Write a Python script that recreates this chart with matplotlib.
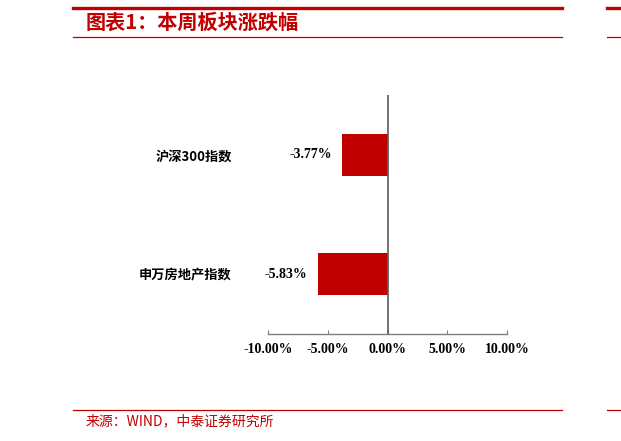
import matplotlib
matplotlib.use("Agg")
import matplotlib.pyplot as plt
from matplotlib.lines import Line2D

categories = ["申万房地产指数", "沪深300指数"]
values = [-5.83, -3.77]
xticks = [-10, -5, 0, 5, 10]
xtick_labels = ["-10.00%", "-5.00%", "0.00%", "5.00%", "10.00%"]
title = "图表1：本周板块涨跌幅"
source = "来源：WIND，中泰证券研究所"

W, H = 621, 441
RED = "#C00000"
GREY = "#7F7F7F"
CJK = ["Noto Sans CJK SC", "DejaVu Sans"]
SERIF = ["Liberation Serif", "DejaVu Serif"]

fig = plt.figure(figsize=(W / 100, H / 100), dpi=100)

def px(x, y):
    return x / W, 1 - y / H

# header / footer decoration lines
for (x0, x1) in [(73, 562), (607, 621)]:
    fig.add_artist(Line2D([x0 / W, x1 / W], [1 - 7.5 / H] * 2, color=RED, lw=2.4))
    fig.add_artist(Line2D([x0 / W, x1 / W], [1 - 37 / H] * 2, color=RED, lw=0.9))
    fig.add_artist(Line2D([x0 / W, x1 / W], [1 - 410 / H] * 2, color=RED, lw=0.9))

fig.text(*px(86, 22), title, color=RED, fontsize=14.5, fontweight="bold",
         family=CJK, va="center", ha="left", style="italic")
fig.text(*px(86, 421), source, color=RED, fontsize=10, family=CJK,
         va="center", ha="left")

left, right, top, bottom = 268, 507, 95, 334
ax = fig.add_axes([left / W, 1 - bottom / H, (right - left) / W, (bottom - top) / H])

pos = list(range(len(categories)))
ax.barh(pos, values, height=0.35, color=RED)
ax.set_xlim(-10, 10)
ax.set_ylim(-0.5, 1.5)
ax.axvline(0, color="#595959", lw=1.2)

for s in ["top", "right", "left"]:
    ax.spines[s].set_visible(False)
ax.spines["bottom"].set_color(GREY)
ax.spines["bottom"].set_linewidth(1.0)

ax.set_xticks(xticks)
ax.set_xticklabels(xtick_labels, fontfamily=SERIF, fontweight="bold", fontsize=10)
ax.tick_params(axis="x", direction="in", length=3, color=GREY, pad=6.5)

ax.set_yticks(pos)
ax.set_yticklabels(categories, fontfamily=CJK, fontweight="bold", fontsize=9.5)
ax.tick_params(axis="y", length=0, pad=26)

for p, v in zip(pos, values):
    ax.annotate(f"{v:.2f}%", xy=(v, p), xytext=(-7.5, 0), textcoords="offset points",
                ha="right", va="center", fontfamily=SERIF, fontweight="bold", fontsize=10)

fig.savefig("out.png", dpi=100)
